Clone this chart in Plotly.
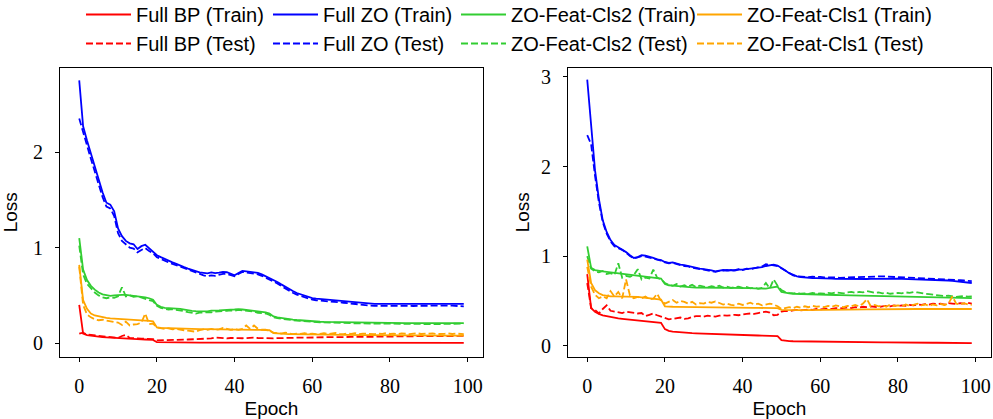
import plotly.graph_objects as go

epochs = list(range(100))

# ---------------- Left panel ----------------
bp_train_L = [0.40, 0.10, 0.085, 0.078, 0.072, 0.067, 0.063, 0.060, 0.057, 0.054,
              0.052, 0.050, 0.048, 0.046, 0.044, 0.042, 0.040, 0.038, 0.036, 0.034,
              0.010, 0.009, 0.009, 0.008, 0.008, 0.008, 0.007, 0.007, 0.007, 0.007,
              0.006, 0.006, 0.006, 0.006, 0.006, 0.005, 0.005, 0.005, 0.005, 0.005,
              0.005, 0.005, 0.005, 0.004, 0.004, 0.004, 0.004, 0.004, 0.004, 0.004,
              0.002, 0.002, 0.002, 0.002, 0.002, 0.002, 0.002, 0.002, 0.002, 0.002,
              0.002, 0.002, 0.002, 0.002, 0.002, 0.002, 0.002, 0.002, 0.002, 0.002,
              0.002, 0.002, 0.002, 0.002, 0.002, 0.002, 0.002, 0.002, 0.002, 0.002,
              0.002, 0.002, 0.002, 0.002, 0.002, 0.002, 0.002, 0.002, 0.002, 0.002,
              0.002, 0.002, 0.002, 0.002, 0.002, 0.002, 0.002, 0.002, 0.002, 0.002]
bp_test_L = [0.10, 0.11, 0.09, 0.085, 0.08, 0.075, 0.07, 0.065, 0.06, 0.06,
             0.055, 0.075, 0.085, 0.055, 0.05, 0.05, 0.048, 0.045, 0.045, 0.042,
             0.030, 0.030, 0.032, 0.031, 0.033, 0.034, 0.035, 0.036, 0.038, 0.040,
             0.040, 0.042, 0.041, 0.045, 0.050, 0.060, 0.055, 0.052, 0.050, 0.054,
             0.050, 0.053, 0.051, 0.055, 0.052, 0.058, 0.054, 0.051, 0.050, 0.053,
             0.050, 0.052, 0.054, 0.055, 0.056, 0.055, 0.057, 0.058, 0.057, 0.059,
             0.060, 0.061, 0.060, 0.062, 0.063, 0.062, 0.064, 0.063, 0.065, 0.064,
             0.065, 0.066, 0.065, 0.067, 0.066, 0.068, 0.067, 0.068, 0.069, 0.068,
             0.070, 0.069, 0.071, 0.070, 0.072, 0.071, 0.072, 0.073, 0.072, 0.073,
             0.074, 0.073, 0.074, 0.075, 0.074, 0.075, 0.076, 0.075, 0.076, 0.076]
zo_train_L = [2.75, 2.27, 2.12, 1.98, 1.84, 1.71, 1.58, 1.47, 1.45, 1.38,
              1.20, 1.12, 1.07, 1.045, 1.035, 0.985, 1.015, 1.03, 0.99, 0.96,
              0.92, 0.90, 0.88, 0.86, 0.845, 0.83, 0.81, 0.795, 0.78, 0.765,
              0.75, 0.74, 0.735, 0.73, 0.74, 0.732, 0.737, 0.745, 0.742, 0.73,
              0.71, 0.735, 0.757, 0.752, 0.747, 0.742, 0.735, 0.72, 0.70, 0.685,
              0.665, 0.64, 0.615, 0.59, 0.565, 0.545, 0.525, 0.51, 0.495, 0.483,
              0.472, 0.466, 0.462, 0.458, 0.456, 0.453, 0.45, 0.446, 0.442, 0.437,
              0.432, 0.427, 0.422, 0.418, 0.415, 0.413, 0.411, 0.41, 0.41, 0.409,
              0.409, 0.41, 0.411, 0.412, 0.41, 0.409, 0.41, 0.412, 0.413, 0.412,
              0.413, 0.414, 0.414, 0.415, 0.415, 0.414, 0.413, 0.412, 0.411, 0.41]
zo_test_L = [2.35, 2.22, 2.07, 1.93, 1.79, 1.66, 1.53, 1.43, 1.41, 1.33,
             1.15, 1.07, 1.03, 1.00, 0.99, 0.95, 0.975, 0.995, 0.965, 0.94,
             0.90, 0.88, 0.86, 0.845, 0.83, 0.815, 0.795, 0.78, 0.765, 0.75,
             0.735, 0.72, 0.71, 0.70, 0.71, 0.705, 0.715, 0.725, 0.725, 0.715,
             0.70, 0.725, 0.745, 0.74, 0.735, 0.728, 0.72, 0.705, 0.685, 0.668,
             0.648, 0.625, 0.598, 0.572, 0.548, 0.528, 0.508, 0.493, 0.478, 0.466,
             0.455, 0.449, 0.444, 0.44, 0.437, 0.434, 0.431, 0.427, 0.423, 0.418,
             0.413, 0.408, 0.403, 0.399, 0.396, 0.393, 0.391, 0.39, 0.389, 0.388,
             0.388, 0.389, 0.39, 0.391, 0.389, 0.388, 0.389, 0.391, 0.392, 0.391,
             0.392, 0.393, 0.393, 0.394, 0.394, 0.393, 0.392, 0.39, 0.388, 0.385]
cls2_train_L = [1.10, 0.77, 0.66, 0.60, 0.56, 0.53, 0.51, 0.50, 0.495, 0.50,
                0.505, 0.505, 0.505, 0.50, 0.50, 0.495, 0.49, 0.48, 0.47, 0.455,
                0.40, 0.38, 0.37, 0.365, 0.36, 0.362, 0.358, 0.35, 0.342, 0.338,
                0.335, 0.333, 0.336, 0.333, 0.34, 0.338, 0.342, 0.346, 0.345, 0.35,
                0.352, 0.356, 0.352, 0.347, 0.342, 0.337, 0.333, 0.328, 0.322, 0.31,
                0.28, 0.27, 0.262, 0.256, 0.25, 0.246, 0.242, 0.238, 0.234, 0.23,
                0.228, 0.226, 0.224, 0.222, 0.221, 0.22, 0.219, 0.218, 0.217, 0.216,
                0.215, 0.214, 0.214, 0.213, 0.212, 0.212, 0.211, 0.21, 0.21, 0.21,
                0.21, 0.21, 0.21, 0.21, 0.209, 0.209, 0.209, 0.209, 0.209, 0.209,
                0.209, 0.209, 0.209, 0.21, 0.21, 0.21, 0.21, 0.21, 0.21, 0.21]
cls2_test_L = [1.02, 0.72, 0.62, 0.57, 0.53, 0.50, 0.48, 0.47, 0.48, 0.475,
               0.49, 0.585, 0.49, 0.50, 0.485, 0.49, 0.475, 0.465, 0.45, 0.44,
               0.39, 0.37, 0.36, 0.35, 0.355, 0.35, 0.345, 0.335, 0.325, 0.32,
               0.31, 0.32, 0.318, 0.325, 0.322, 0.33, 0.332, 0.33, 0.338, 0.342,
               0.34, 0.348, 0.345, 0.34, 0.335, 0.33, 0.318, 0.312, 0.31, 0.295,
               0.27, 0.262, 0.255, 0.25, 0.245, 0.24, 0.236, 0.232, 0.228, 0.225,
               0.222, 0.22, 0.218, 0.217, 0.215, 0.214, 0.213, 0.212, 0.21, 0.21,
               0.209, 0.208, 0.207, 0.207, 0.206, 0.205, 0.205, 0.204, 0.204, 0.203,
               0.203, 0.202, 0.202, 0.202, 0.201, 0.201, 0.2, 0.2, 0.2, 0.2,
               0.2, 0.199, 0.199, 0.199, 0.198, 0.198, 0.198, 0.198, 0.2, 0.205]
cls1_train_L = [0.82, 0.45, 0.36, 0.31, 0.29, 0.28, 0.27, 0.265, 0.26, 0.258,
                0.255, 0.252, 0.25, 0.248, 0.245, 0.242, 0.24, 0.237, 0.233, 0.228,
                0.165, 0.160, 0.158, 0.156, 0.155, 0.154, 0.152, 0.151, 0.150, 0.149,
                0.148, 0.147, 0.146, 0.146, 0.145, 0.144, 0.144, 0.143, 0.143, 0.142,
                0.142, 0.141, 0.141, 0.140, 0.140, 0.139, 0.139, 0.138, 0.138, 0.135,
                0.105, 0.100, 0.098, 0.096, 0.095, 0.094, 0.093, 0.092, 0.091, 0.090,
                0.090, 0.089, 0.089, 0.088, 0.088, 0.087, 0.087, 0.086, 0.086, 0.085,
                0.085, 0.085, 0.084, 0.084, 0.084, 0.083, 0.083, 0.083, 0.082, 0.082,
                0.082, 0.082, 0.081, 0.081, 0.081, 0.081, 0.080, 0.080, 0.080, 0.080,
                0.080, 0.079, 0.079, 0.079, 0.079, 0.079, 0.078, 0.078, 0.078, 0.078]
cls1_test_L = [0.80, 0.40, 0.30, 0.27, 0.25, 0.24, 0.245, 0.235, 0.23, 0.22,
               0.215, 0.19, 0.225, 0.185, 0.195, 0.20, 0.215, 0.31, 0.20, 0.205,
               0.165, 0.160, 0.150, 0.155, 0.145, 0.150, 0.140, 0.135, 0.130, 0.125,
               0.120, 0.135, 0.145, 0.140, 0.150, 0.140, 0.145, 0.160, 0.150, 0.140,
               0.145, 0.140, 0.150, 0.185, 0.150, 0.185, 0.150, 0.140, 0.140, 0.130,
               0.110, 0.105, 0.100, 0.110, 0.100, 0.095, 0.100, 0.098, 0.105, 0.095,
               0.100, 0.095, 0.098, 0.105, 0.095, 0.100, 0.108, 0.098, 0.095, 0.100,
               0.098, 0.105, 0.095, 0.100, 0.098, 0.102, 0.095, 0.100, 0.098, 0.104,
               0.096, 0.100, 0.095, 0.102, 0.098, 0.095, 0.100, 0.104, 0.096, 0.100,
               0.098, 0.103, 0.095, 0.100, 0.098, 0.102, 0.096, 0.100, 0.098, 0.095]

# ---------------- Right panel ----------------
bp_train_R = [0.80, 0.42, 0.38, 0.355, 0.34, 0.33, 0.32, 0.312, 0.305, 0.30,
              0.295, 0.29, 0.285, 0.28, 0.276, 0.272, 0.268, 0.264, 0.26, 0.255,
              0.185, 0.165, 0.158, 0.153, 0.149, 0.146, 0.143, 0.14, 0.138, 0.136,
              0.134, 0.132, 0.13, 0.128, 0.127, 0.125, 0.124, 0.122, 0.121, 0.12,
              0.119, 0.118, 0.116, 0.115, 0.114, 0.113, 0.112, 0.111, 0.11, 0.108,
              0.062, 0.055, 0.052, 0.05, 0.049, 0.048, 0.047, 0.046, 0.045, 0.045,
              0.044, 0.043, 0.043, 0.042, 0.042, 0.041, 0.041, 0.04, 0.04, 0.04,
              0.039, 0.039, 0.038, 0.038, 0.038, 0.037, 0.037, 0.037, 0.036, 0.036,
              0.036, 0.035, 0.035, 0.035, 0.034, 0.034, 0.034, 0.034, 0.033, 0.033,
              0.033, 0.033, 0.032, 0.032, 0.032, 0.032, 0.031, 0.031, 0.031, 0.03]
bp_test_R = [0.70, 0.42, 0.40, 0.36, 0.41, 0.45, 0.39, 0.38, 0.37, 0.365,
             0.38, 0.375, 0.37, 0.36, 0.365, 0.33, 0.345, 0.36, 0.34, 0.325,
             0.31, 0.295, 0.30, 0.31, 0.315, 0.30, 0.305, 0.32, 0.33, 0.33,
             0.325, 0.335, 0.33, 0.325, 0.335, 0.34, 0.335, 0.34, 0.345, 0.34,
             0.35, 0.355, 0.36, 0.355, 0.365, 0.37, 0.38, 0.37, 0.34, 0.345,
             0.38, 0.39, 0.385, 0.395, 0.40, 0.395, 0.40, 0.405, 0.40, 0.41,
             0.405, 0.41, 0.415, 0.41, 0.42, 0.415, 0.42, 0.425, 0.42, 0.43,
             0.425, 0.435, 0.43, 0.44, 0.435, 0.43, 0.44, 0.445, 0.44, 0.45,
             0.44, 0.45, 0.445, 0.455, 0.45, 0.46, 0.455, 0.465, 0.46, 0.47,
             0.465, 0.47, 0.46, 0.475, 0.47, 0.465, 0.475, 0.47, 0.48, 0.47]
zo_train_R = [2.97, 2.45, 1.96, 1.64, 1.40, 1.27, 1.18, 1.125, 1.10, 1.075,
              1.045, 1.01, 0.98, 0.99, 1.01, 1.005, 0.995, 0.98, 0.965, 0.955,
              0.935, 0.925, 0.93, 0.915, 0.905, 0.90, 0.89, 0.875, 0.865, 0.86,
              0.855, 0.85, 0.84, 0.83, 0.835, 0.845, 0.84, 0.845, 0.84, 0.85,
              0.85, 0.855, 0.86, 0.86, 0.868, 0.878, 0.89, 0.90, 0.905, 0.895,
              0.87, 0.84, 0.81, 0.79, 0.775, 0.765, 0.76, 0.758, 0.756, 0.755,
              0.755, 0.752, 0.75, 0.748, 0.746, 0.745, 0.744, 0.742, 0.741, 0.74,
              0.74, 0.742, 0.745, 0.747, 0.748, 0.748, 0.75, 0.751, 0.75, 0.75,
              0.748, 0.746, 0.745, 0.745, 0.744, 0.744, 0.743, 0.742, 0.741, 0.74,
              0.738, 0.735, 0.732, 0.728, 0.724, 0.72, 0.715, 0.71, 0.705, 0.70]
zo_test_R = [2.35, 2.25, 1.90, 1.60, 1.38, 1.25, 1.165, 1.11, 1.09, 1.07,
             1.04, 1.00, 0.975, 0.985, 1.00, 0.995, 0.985, 0.975, 0.96, 0.95,
             0.93, 0.92, 0.925, 0.91, 0.90, 0.89, 0.885, 0.87, 0.86, 0.855,
             0.85, 0.84, 0.835, 0.825, 0.835, 0.84, 0.845, 0.835, 0.845, 0.855,
             0.845, 0.86, 0.855, 0.865, 0.87, 0.885, 0.91, 0.905, 0.90, 0.89,
             0.865, 0.835, 0.805, 0.785, 0.775, 0.77, 0.768, 0.765, 0.77, 0.765,
             0.768, 0.764, 0.765, 0.76, 0.762, 0.758, 0.76, 0.756, 0.758, 0.76,
             0.762, 0.765, 0.768, 0.772, 0.77, 0.772, 0.775, 0.772, 0.77, 0.768,
             0.765, 0.762, 0.76, 0.762, 0.758, 0.76, 0.756, 0.758, 0.755, 0.752,
             0.75, 0.748, 0.745, 0.742, 0.74, 0.736, 0.732, 0.728, 0.724, 0.72]
cls2_train_R = [1.11, 0.87, 0.845, 0.835, 0.83, 0.825, 0.82, 0.815, 0.81, 0.80,
                0.795, 0.79, 0.785, 0.78, 0.775, 0.77, 0.765, 0.76, 0.755, 0.75,
                0.69, 0.675, 0.67, 0.665, 0.66, 0.655, 0.653, 0.652, 0.65, 0.65,
                0.65, 0.649, 0.648, 0.648, 0.647, 0.646, 0.646, 0.645, 0.645, 0.644,
                0.644, 0.643, 0.642, 0.641, 0.64, 0.638, 0.638, 0.645, 0.655, 0.66,
                0.60, 0.59, 0.585, 0.58, 0.578, 0.577, 0.575, 0.574, 0.572, 0.571,
                0.57, 0.569, 0.568, 0.567, 0.566, 0.565, 0.564, 0.563, 0.562, 0.561,
                0.56, 0.559, 0.558, 0.557, 0.556, 0.556, 0.555, 0.554, 0.553, 0.552,
                0.551, 0.55, 0.549, 0.548, 0.547, 0.546, 0.545, 0.544, 0.543, 0.542,
                0.541, 0.54, 0.539, 0.538, 0.537, 0.536, 0.535, 0.534, 0.533, 0.532]
cls2_test_R = [1.0, 0.86, 0.83, 0.82, 0.835, 0.80, 0.81, 0.79, 0.92, 0.76,
               0.78, 0.77, 0.79, 0.855, 0.74, 0.76, 0.75, 0.85, 0.76, 0.74,
               0.70, 0.68, 0.67, 0.69, 0.66, 0.675, 0.66, 0.68, 0.655, 0.67,
               0.66, 0.65, 0.665, 0.655, 0.67, 0.65, 0.66, 0.645, 0.655, 0.66,
               0.645, 0.655, 0.64, 0.65, 0.635, 0.645, 0.70, 0.64, 0.74, 0.67,
               0.62, 0.60, 0.59, 0.585, 0.59, 0.58, 0.585, 0.578, 0.59, 0.58,
               0.585, 0.58, 0.59, 0.585, 0.595, 0.59, 0.585, 0.595, 0.60, 0.59,
               0.60, 0.595, 0.61, 0.60, 0.59, 0.595, 0.585, 0.59, 0.58, 0.585,
               0.59, 0.585, 0.595, 0.59, 0.6, 0.595, 0.585, 0.58, 0.575, 0.57,
               0.565, 0.56, 0.555, 0.56, 0.55, 0.545, 0.55, 0.555, 0.548, 0.55]
cls1_train_R = [0.96, 0.70, 0.62, 0.585, 0.565, 0.555, 0.55, 0.55, 0.55, 0.55,
                0.552, 0.55, 0.548, 0.545, 0.54, 0.535, 0.53, 0.525, 0.52, 0.515,
                0.44, 0.435, 0.435, 0.434, 0.433, 0.433, 0.432, 0.431, 0.43, 0.43,
                0.43, 0.429, 0.428, 0.428, 0.427, 0.427, 0.426, 0.425, 0.425, 0.424,
                0.424, 0.423, 0.423, 0.422, 0.422, 0.421, 0.42, 0.42, 0.42, 0.419,
                0.40, 0.398, 0.397, 0.397, 0.397, 0.398, 0.398, 0.399, 0.4, 0.4,
                0.401, 0.401, 0.402, 0.402, 0.403, 0.403, 0.404, 0.404, 0.405, 0.405,
                0.405, 0.406, 0.406, 0.406, 0.407, 0.407, 0.407, 0.408, 0.408, 0.408,
                0.408, 0.409, 0.409, 0.409, 0.409, 0.41, 0.41, 0.41, 0.41, 0.41,
                0.41, 0.41, 0.41, 0.41, 0.41, 0.41, 0.41, 0.41, 0.41, 0.41]
cls1_test_R = [0.88, 0.66, 0.57, 0.53, 0.55, 0.53, 0.61, 0.55, 0.60, 0.53,
               0.74, 0.56, 0.53, 0.545, 0.53, 0.55, 0.52, 0.525, 0.58, 0.50,
               0.47, 0.49, 0.51, 0.48, 0.50, 0.49, 0.47, 0.49, 0.46, 0.475,
               0.47, 0.49, 0.48, 0.495, 0.475, 0.46, 0.47, 0.455, 0.45, 0.47,
               0.455, 0.465, 0.48, 0.46, 0.47, 0.45, 0.46, 0.47, 0.46, 0.44,
               0.41, 0.42, 0.43, 0.42, 0.435, 0.425, 0.44, 0.43, 0.445, 0.435,
               0.44, 0.43, 0.445, 0.435, 0.45, 0.44, 0.43, 0.445, 0.44, 0.455,
               0.44, 0.47, 0.52, 0.44, 0.455, 0.44, 0.45, 0.435, 0.46, 0.445,
               0.45, 0.44, 0.46, 0.445, 0.455, 0.47, 0.45, 0.46, 0.445, 0.46,
               0.45, 0.465, 0.455, 0.47, 0.55, 0.47, 0.46, 0.475, 0.46, 0.455]

methods = ["Full BP", "Full ZO", "ZO-Feat-Cls2", "ZO-Feat-Cls1"]
colors = ["#ff0000", "#0000ff", "#32cd32", "#ffa500"]
left_train = [bp_train_L, zo_train_L, cls2_train_L, cls1_train_L]
left_test = [bp_test_L, zo_test_L, cls2_test_L, cls1_test_L]
right_train = [bp_train_R, zo_train_R, cls2_train_R, cls1_train_R]
right_test = [bp_test_R, zo_test_R, cls2_test_R, cls1_test_R]

W, H = 993, 419
def px(x):
    return x / W
def py(y):
    return 1 - y / H

LW = 1.8
DASH = "7px,3px"
legend_names = ["legend", "legend2", "legend3", "legend4"]

fig = go.Figure()
for i, m in enumerate(methods):
    lg = legend_names[i]
    fig.add_trace(go.Scatter(x=epochs, y=left_train[i], mode="lines", name=f"{m} (Train)",
                             line=dict(color=colors[i], width=LW), legend=lg,
                             xaxis="x", yaxis="y"))
    fig.add_trace(go.Scatter(x=epochs, y=left_test[i], mode="lines", name=f"{m} (Test)",
                             line=dict(color=colors[i], width=LW, dash=DASH), legend=lg,
                             xaxis="x", yaxis="y"))
for i, m in enumerate(methods):
    fig.add_trace(go.Scatter(x=epochs, y=right_train[i], mode="lines", showlegend=False,
                             line=dict(color=colors[i], width=LW), xaxis="x2", yaxis="y2"))
    fig.add_trace(go.Scatter(x=epochs, y=right_test[i], mode="lines", showlegend=False,
                             line=dict(color=colors[i], width=LW, dash=DASH), xaxis="x2", yaxis="y2"))

tickfont = dict(family="Liberation Serif", size=20, color="black")
titlefont = dict(family="Liberation Sans", size=19, color="black")
ydom = [py(357), py(67.5)]

axis_common = dict(showline=True, linecolor="black", linewidth=1.2, mirror=True,
                   ticks="outside", ticklen=4, tickwidth=1, tickcolor="black",
                   showgrid=False, zeroline=False, tickfont=tickfont)

layout = dict(
    width=W, height=H,
    margin=dict(l=0, r=0, t=0, b=0, autoexpand=False),
    paper_bgcolor="white", plot_bgcolor="white",
    xaxis=dict(domain=[px(60), px(483)], range=[-4.95, 103.95], tickvals=[0, 20, 40, 60, 80, 100],
               ticklabelstandoff=7,
               title=dict(text="Epoch", font=titlefont, standoff=5), anchor="y", **axis_common),
    yaxis=dict(domain=ydom, range=[-0.145, 2.885], tickvals=[0, 1, 2],
               ticklabelstandoff=8,
               title=dict(text="Loss", font=titlefont, standoff=12), anchor="x", **axis_common),
    xaxis2=dict(domain=[px(568), px(991)], range=[-4.95, 103.95], tickvals=[0, 20, 40, 60, 80, 100],
                ticklabelstandoff=7,
                title=dict(text="Epoch", font=titlefont, standoff=5), anchor="y2", **axis_common),
    yaxis2=dict(domain=ydom, range=[-0.126, 3.106], tickvals=[0, 1, 2, 3],
                ticklabelstandoff=8,
                title=dict(text="Loss", font=titlefont, standoff=6), anchor="x2", **axis_common),
)

legend_line_start = [88, 275, 463, 699]
for lg, lx in zip(legend_names, legend_line_start):
    layout[lg] = dict(x=px(lx - 7), y=1 + 5 / H, xanchor="left", yanchor="top",
                      orientation="v", bgcolor="rgba(0,0,0,0)", borderwidth=0,
                      font=dict(family="Liberation Sans", size=20, color="black"),
                      itemwidth=45, tracegroupgap=0, traceorder="normal")

fig.update_layout(**layout)
fig.write_html("out.html", config={"displayModeBar": False},
               post_script="document.body.style.margin='0';")
